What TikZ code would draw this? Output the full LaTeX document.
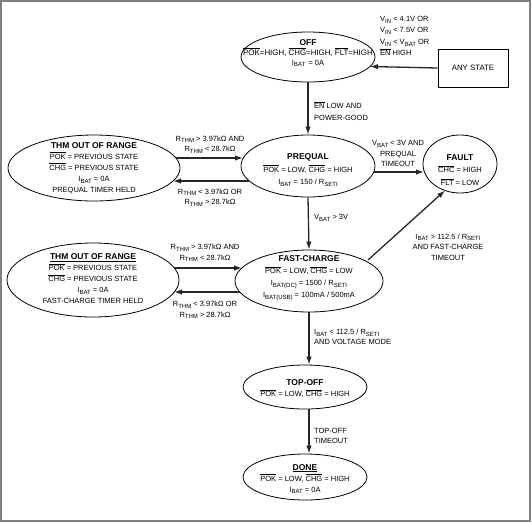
\documentclass[tikz,border=0pt]{standalone}
\usepackage{fontspec}
\setmainfont{Liberation Sans}
\usetikzlibrary{shapes.geometric,arrows.meta,calc}
\newcommand{\ovl}[1]{$\overline{\mbox{#1}}$}
\newcommand{\sbs}[1]{\raisebox{-0.45ex}{\fontsize{6}{6}\selectfont #1}}
\newcommand{\ttl}[1]{{\fontsize{8.5}{10}\selectfont\bfseries #1}}
\tikzset{
  st/.style={draw=black, line width=0.8pt, ellipse, inner sep=0pt},
  txt/.style={font=\fontsize{7.5}{11}\selectfont, align=center, inner sep=0pt},
  lbl/.style={font=\fontsize{7.5}{10.5}\selectfont, inner sep=0pt},
  arr/.style={draw=black!85, line width=1.3pt, -{Latex[length=8pt,width=5.5pt]}}
}
\begin{document}
\begin{tikzpicture}[x=1pt,y=-1pt]
\useasboundingbox (0,0) rectangle (532,523);
\draw[draw=black!50, line width=2pt] (1,1) rectangle (530,521);

% states
\node[st, minimum width=134pt, minimum height=50pt] (off) at (308,57) {};
\node[txt, font=\fontsize{7.5}{10}\selectfont] (offt) at (308,53) {\ttl{OFF}\\{\fontsize{7.9}{10}\selectfont\ovl{POK}=HIGH, \ovl{CHG}=HIGH, \ovl{FLT}=HIGH}\\I\sbs{BAT} \,= 0A};
\node[draw=black, line width=0.8pt, minimum width=70pt, minimum height=38pt, font=\fontsize{7.8}{10}\selectfont] (any) at (473,68) {ANY STATE};

\node[st, minimum width=134pt, minimum height=62pt] (preq) at (308,166) {};
\node[txt, font=\fontsize{7.5}{12.5}\selectfont] (preqt) at (308,170) {\ttl{PREQUAL}\\\ovl{POK} = LOW, \ovl{CHG} = HIGH\\I\sbs{BAT} = 150 / R\sbs{SETI}};

\node[st, minimum width=74pt, minimum height=58pt] (fault) at (460,164) {};
\node[txt, font=\fontsize{7.5}{12.5}\selectfont] (faultt) at (460,170) {\ttl{FAULT}\\\ovl{CHC} = HIGH\\\ovl{FLT} = LOW};

\node[st, minimum width=172pt, minimum height=66pt] (thm1) at (94,168) {};
\node[txt] (thm1t) at (94,168) {\ttl{THM OUT OF RANGE}\\\ovl{POK} = PREVIOUS STATE\\\ovl{CHG} = PREVIOUS STATE\\I\sbs{BAT} = 0A\\PREQUAL TIMER HELD};

\node[st, minimum width=172pt, minimum height=74pt] (thm2) at (93,280) {};
\node[txt] (thm2t) at (93,279) {\ttl{\underline{THM OUT OF RANGE}}\\\ovl{POK} = PREVIOUS STATE\\\ovl{CHG} = PREVIOUS STATE\\I\sbs{BAT} = 0A\\FAST-CHARGE TIMER HELD};

\node[st, minimum width=148pt, minimum height=62pt] (fc) at (309,281) {};
\node[txt, font=\fontsize{7.5}{12}\selectfont] (fct) at (309,278) {\ttl{FAST-CHARGE}\\\ovl{POK} = LOW, \ovl{CHG} = LOW\\I\sbs{BAT(DC)} = 1500 / R\sbs{SETI}\\I\sbs{BAT(USB)} = 100mA / 500mA};

\node[st, minimum width=124pt, minimum height=44pt] (topoff) at (305,387) {};
\node[txt, font=\fontsize{7.5}{11}\selectfont] (topofft) at (305,389) {\ttl{TOP-OFF}\\\ovl{POK} = LOW, \ovl{CHG} = HIGH};

\node[st, minimum width=124pt, minimum height=46pt] (done) at (305,477) {};
\node[txt, font=\fontsize{7.5}{11}\selectfont] (donet) at (305,479) {\ttl{\underline{DONE}}\\\ovl{POK} = LOW, \ovl{CHG} = HIGH\\I\sbs{BAT} = 0A};

% labels
\node[lbl, align=left, anchor=west, font=\fontsize{7.5}{11.5}\selectfont] (l0) at (380,36) {V\sbs{IN} < 4.1V OR\\V\sbs{IN} < 7.5V OR\\V\sbs{IN} < V\sbs{BAT} OR\\\ovl{EN} HIGH};
\node[lbl, align=left, anchor=west, font=\fontsize{7.5}{12}\selectfont] (l1) at (314,111) {\ovl{EN} LOW AND\\POWER-GOOD};
\node[lbl, align=center] (l2) at (210,144.5) {R\sbs{THM} > 3.97kΩ AND\\R\sbs{THM} < 28.7kΩ};
\node[lbl, align=center] (l3) at (210,197.5) {R\sbs{THM} < 3.97kΩ OR\\R\sbs{THM} > 28.7kΩ};
\node[lbl, align=center] (l4) at (398,153.5) {V\sbs{BAT} < 3V AND\\PREQUAL\\TIMEOUT};
\node[lbl, anchor=west] (l5) at (314,218) {V\sbs{BAT} > 3V};
\node[lbl, align=center] (l6) at (205,253) {R\sbs{THM} > 3.97kΩ AND\\R\sbs{THM} < 28.7kΩ};
\node[lbl, align=center] (l7) at (205,310) {R\sbs{THM} < 3.97kΩ OR\\R\sbs{THM} > 28.7kΩ};
\node[lbl, align=center] (l8) at (448,247) {I\sbs{BAT} > 112.5 / R\sbs{SETI}\\AND FAST-CHARGE\\TIMEOUT};
\node[lbl, align=left, anchor=west] (l9) at (314,337) {I\sbs{BAT} < 112.5 / R\sbs{SETI}\\AND VOLTAGE MODE};
\node[lbl, align=left, anchor=west] (l10) at (314,436) {TOP-OFF\\TIMEOUT};

% connectors
\draw[arr] (any.west) -- ($(off.center)+(62,9.5)$);
\draw[arr] (off.south) -- (preq.north);
\draw[arr] ($(thm1.center)+(82,-10)$) -- ($(preq.center)+(-65,-8)$);
\draw[arr] ($(preq.center)+(-59,15)$) -- ($(thm1.center)+(79,13)$);
\draw[arr] ($(preq.center)+(66,6)$) -- ($(fault.center)+(-36,8)$);
\draw[arr] (preq.south) -- (fc.north);
\draw[arr] ($(thm2.center)+(81,-12)$) -- ($(fc.center)+(-67,-13)$);
\draw[arr] ($(fc.center)+(-69,11)$) -- ($(thm2.center)+(81,12)$);
\draw[arr] ($(fc.center)+(59,-21)$) -- ($(fault.center)+(-15,26.5)$);
\draw[arr] (fc.south) -- (fc.south |- topoff.north);
\draw[arr] (topoff.south -| fc.south) -- (fc.south |- done.north);
\end{tikzpicture}
\end{document}
